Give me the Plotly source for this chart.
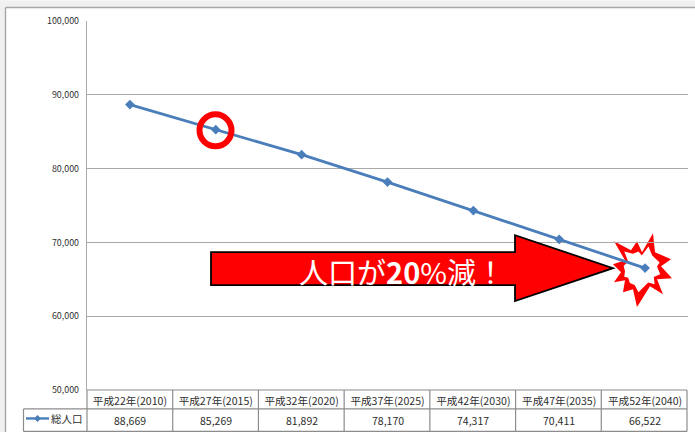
import plotly.graph_objects as go

W, H = 695, 432
L, R, T, B = 87.0, 688.0, 20.5, 390.0

categories = ["平成22年(2010)", "平成27年(2015)", "平成32年(2020)", "平成37年(2025)",
              "平成42年(2030)", "平成47年(2035)", "平成52年(2040)"]
population = [88669, 85269, 81892, 78170, 74317, 70411, 66522]
series_name = "総人口"
y_ticks = [50000, 60000, 70000, 80000, 90000, 100000]
callout = "人口が<b>20</b>%減！"

FONT = "Noto Sans CJK JP, Noto Sans, sans-serif"
GRID = "#aaaaaa"
CELL = "#8c8c8c"
BLUE = "#4a7ebb"
TXT = "#2e2e2e"


def to_plot_x(x):
    return (x - L) / (R - L)


def to_plot_y(y):
    return (B - y) / (B - T)


def path(points):
    # pixel positions on the page -> plot-area fractions
    return "M " + " L ".join(f"{to_plot_x(x):.5f},{to_plot_y(y):.5f}" for x, y in points) + " Z"


def seg(x0, y0, x1, y1, color=CELL, width=1):
    return dict(type="line", xref="x domain", yref="y domain",
                x0=to_plot_x(x0), x1=to_plot_x(x1), y0=to_plot_y(y0), y1=to_plot_y(y1),
                line=dict(color=color, width=width), layer="above")


fig = go.Figure()
fig.add_trace(go.Scatter(
    x=list(range(len(categories))), y=population, mode="lines+markers", name=series_name,
    line=dict(color=BLUE, width=2.8), marker=dict(symbol="diamond", size=7.5, color=BLUE),
    hoverinfo="skip", showlegend=False, cliponaxis=False,
))

shapes = []
# window chrome
shapes.append(dict(type="rect", xref="paper", yref="paper", x0=to_plot_x(0), x1=to_plot_x(W),
                   y0=to_plot_y(0), y1=to_plot_y(6.5), fillcolor="#f0f0f0", line_width=0, layer="below"))
shapes.append(dict(type="rect", xref="paper", yref="paper", x0=to_plot_x(0), x1=to_plot_x(5),
                   y0=to_plot_y(0), y1=to_plot_y(H), fillcolor="#f0f0f0", line_width=0, layer="below"))
shapes.append(seg(5.5, 7, W, 7, "#a6a6a6", 1.4))
shapes.append(seg(5.5, 7, 5.5, H, "#a6a6a6", 1.4))

# data table
col_w = (R - 1 - L) / len(categories)
for k in range(len(categories) + 1):
    xk = L + k * col_w
    shapes.append(seg(xk, B, xk, 431.5, CELL, 1.2))
shapes.append(seg(L, 390, R - 1, 390, CELL, 1.2))
shapes.append(seg(23.5, 409, R - 1, 409, CELL, 1.2))
shapes.append(seg(23.5, 431.5, R - 1, 431.5, CELL, 1.2))
shapes.append(seg(23.5, 409, 23.5, 431.5, CELL, 1.2))

# legend key
shapes.append(seg(26, 418.5, 49, 418.5, BLUE, 2.4))
shapes.append(dict(type="path", xref="x domain", yref="y domain",
                   path=path([(37.5, 415), (41, 418.5), (37.5, 422), (34, 418.5)]),
                   fillcolor=BLUE, line_width=0, layer="above"))

# burst: red outer polygon with a smaller white polygon inside
burst = [(653, 233), (655, 252), (671, 259), (661, 266), (672, 278), (657, 279), (663, 294),
         (650, 286), (637, 307), (633, 289), (623, 292), (625, 280), (614, 282), (621, 272),
         (613, 264), (625, 260), (614, 241), (631, 250), (637, 241), (642, 252)]
cx, cy = 641.0, 268.0
inner = []
for n, (x, y) in enumerate(burst):
    ratio = 0.62 if n % 2 == 0 else 0.8
    inner.append((cx + (x - cx) * ratio, cy + (y - cy) * ratio))
shapes.append(dict(type="path", xref="x domain", yref="y domain", path=path(burst),
                   fillcolor="#ff0000", line_width=0, layer="below"))
shapes.append(dict(type="path", xref="x domain", yref="y domain", path=path(inner),
                   fillcolor="#ffffff", line_width=0, layer="below"))

# arrow
arrow = [(211, 252), (515, 252), (515, 235), (613, 268), (515, 301), (515, 285), (211, 285)]
shapes.append(dict(type="path", xref="x domain", yref="y domain", path=path(arrow),
                   fillcolor="#ff0000", line=dict(color="#000000", width=1.8), layer="above"))

# circle
shapes.append(dict(type="circle", xref="x domain", yref="y domain",
                   x0=to_plot_x(215.5 - 16), x1=to_plot_x(215.5 + 16),
                   y0=to_plot_y(130 - 16), y1=to_plot_y(130 + 16),
                   line=dict(color="#ff0000", width=6), layer="above"))

annotations = []
for i, v in enumerate(population):
    annotations.append(dict(x=i, xref="x", y=to_plot_y(420.5), yref="paper", text=f"{v:,}", showarrow=False,
                            font=dict(family=FONT, size=10.5, color=TXT), xanchor="center", yanchor="middle"))
annotations.append(dict(x=to_plot_x(66.5), xref="paper", y=to_plot_y(419), yref="paper", text=series_name,
                        showarrow=False, font=dict(family=FONT, size=10.5, color=TXT),
                        xanchor="center", yanchor="middle"))
annotations.append(dict(x=to_plot_x(402), xref="paper", y=to_plot_y(270.5), yref="paper", text=callout,
                        showarrow=False, font=dict(family=FONT, size=29, color="#ffffff"),
                        xanchor="center", yanchor="middle"))

fig.update_layout(
    width=W, height=H, autosize=False,
    margin=dict(l=L, r=W - R, t=T, b=H - B, pad=0),
    paper_bgcolor="#ffffff", plot_bgcolor="rgba(0,0,0,0)",
    shapes=shapes, annotations=annotations,
    font=dict(family=FONT, color=TXT),
    xaxis=dict(range=[-0.5, 6.5], tickmode="array", tickvals=list(range(len(categories))),
               ticktext=categories, showgrid=False, zeroline=False,
               tickfont=dict(size=10.6, family=FONT, color=TXT), showline=False,
               ticks="outside", ticklen=1, tickcolor="rgba(0,0,0,0)", tickangle=0),
    yaxis=dict(range=[50000, 100000], tickmode="array", tickvals=y_ticks,
               ticktext=[f"{t:,}" for t in y_ticks], showgrid=True, gridcolor=GRID, gridwidth=1.2,
               zeroline=False, showline=True, linecolor=GRID, linewidth=1.4,
               tickfont=dict(size=8.9, family=FONT, color=TXT), ticks="outside", ticklen=5,
               tickcolor="rgba(0,0,0,0)"),
)

fig.write_html("out.html", post_script="document.body.style.margin='0';document.body.style.overflow='hidden';",
               config={"displayModeBar": False})
